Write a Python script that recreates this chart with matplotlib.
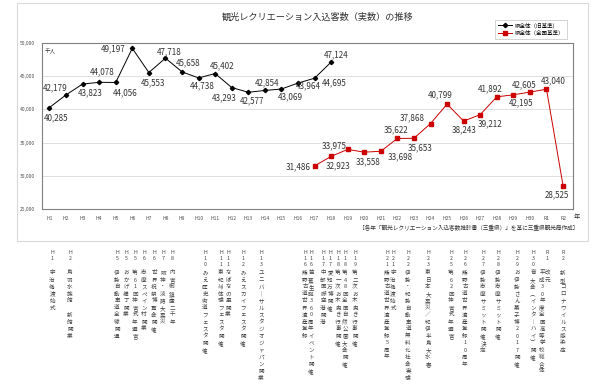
import matplotlib
matplotlib.use('Agg')
import matplotlib.pyplot as plt
from matplotlib.patches import Rectangle
import numpy as np

plt.rcParams['font.family'] = ['Noto Sans CJK JP', 'DejaVu Sans']

years = ['H1', 'H2', 'H3', 'H4', 'H5', 'H6', 'H7', 'H8', 'H9', 'H10',
         'H11', 'H12', 'H13', 'H14', 'H15', 'H16', 'H17', 'H18', 'H19', 'H20',
         'H21', 'H22', 'H23', 'H24', 'H25', 'H26', 'H27', 'H28', 'H29', 'H30',
         'R1', 'R2']

# 県全体（旧基準） H1-H18
old_basis = [40285, 42179, 43823, 44078, 44056, 49197, 45553, 47718, 45658, 44738,
             45402, 43293, 42577, 42854, 43069, 43964, 44695, 47124]
# 県全体（全国基準） H17-R2
new_basis = [31486, 32923, 33975, 33558, 33698, 35622, 35653, 37868, 40799, 38243,
             39212, 41892, 42195, 42605, 43040, 28525]
new_start = 16

# label offsets (pixels, y up)
old_off = [(7, -10), (-11, 7), (8, -9), (3, 11), (9, -10), (-19, 0), (4, -10), (4, 6),
           (6, 9), (4, -8), (7, 8), (-7, -10), (4, -9), (2, 8), (9, -8), (10, -3),
           (20, -5), (5, 7)]
new_off = [(-16, -1), (7, -9), (-14, 4), (4, -10), (19, -6), (-1, 9), (6, -10), (-18, 6),
           (-7, 9), (0, -9), (10, -9), (-7, 8), (8, -8), (-6, 7), (7, 8), (-6, -9)]

# events below the chart
event_year = ['H1', 'H2', 'H5', 'H5', 'H5', 'H6', 'H6', 'H7', 'H8', 'H10', 'H11', 'H11',
              'H12', 'H13', 'H16', 'H16', 'H17', 'H17', 'H18', 'H18', 'H19', 'H21', 'H21',
              'H22', 'H23', 'H25', 'H26', 'H27', 'H28', 'H29', 'H30', '', 'R1', 'R2']
event_text = ['宇治橋渡始式', '鳥羽水族館　新館開業', '伊勢自動車道全線開通', 'おかげ横丁開業',
              '第61回神宮式年遷宮', '志摩スペイン村開業', '世界祝祭博覧会開催', '阪神・淡路大震災',
              '内宮御鎮座二千年', 'みえ歴史街道フェスタ開催', '東紀州体験フェスタ開催', 'なばなの里開業',
              'みえスカイフェスタ開催', 'ユニバーサルスタジオジャパン開業', '熊野古道世界遺産登録',
              '芭蕉生誕360周年イベント開催', '中部国際空港開港', '愛知万博開催',
              '第一次お木曳き行事開催', '第48回全国自然公園大会開催', '第二次お木曳き行事開催',
              '熊野古道世界遺産登録5周年', '宇治橋渡始式', '伊勢・紀勢自動車道無料化社会実験',
              '東日本大震災／紀伊半島大水害', '第62回神宮式年遷宮', '熊野古道世界遺産登録10周年',
              '伊勢志摩サミット開催決定', '伊勢志摩サミット開催', 'お伊勢さん菓子博2017開催',
              '育大会（インターハイ）開催', '平成30年度全国高等学校総合体', '改元',
              '新型コロナウイルス感染症']
event_px = [52, 70, 117, 126, 135, 144, 154, 163, 172, 205, 221, 228, 243, 261,
            305, 311, 323, 330, 338, 345, 355, 387, 393, 408, 428, 451, 465, 483,
            498, 517, 533, 542, 547, 563]

W, H = 600, 390
fig = plt.figure(figsize=(6, 3.9), dpi=100)
ax = fig.add_axes([42 / W, 1 - 209 / H, (573 - 42) / W, (209 - 43) / H])

x_all = np.arange(len(years))
x_old = x_all[:len(old_basis)]
x_new = x_all[new_start:new_start + len(new_basis)]

ax.plot(x_old, old_basis, color='black', lw=0.7, marker='D', ms=2.2,
        label='県全体（旧基準）')
ax.plot(x_new, new_basis, color='#cc0000', lw=0.7, marker='s', ms=2.8,
        label='県全体（全国基準）')

for xv, v, (dx, dy) in zip(x_old, old_basis, old_off):
    ax.annotate(f'{v:,}', (xv, v), xytext=(dx, dy), textcoords='offset pixels',
                ha='center', va='center', fontsize=5.8, color='#333333')
for xv, v, (dx, dy) in zip(x_new, new_basis, new_off):
    ax.annotate(f'{v:,}', (xv, v), xytext=(dx, dy), textcoords='offset pixels',
                ha='center', va='center', fontsize=5.8, color='#333333')

ax.set_xlim(-0.45, 31.6)
ax.set_ylim(25000, 50000)
ax.set_yticks(np.arange(25000, 50001, 5000))
ax.set_yticklabels([f'{t:,}' for t in range(25000, 50001, 5000)])
ax.set_xticks(x_all)
ax.set_xticklabels(years)
ax.tick_params(axis='both', length=0, labelsize=3.6, colors='#505050')
ax.tick_params(axis='y', pad=5)
ax.tick_params(axis='x', pad=5)
ax.yaxis.grid(True, color='#d9d9d9', lw=0.6)
ax.set_axisbelow(True)
for s in ax.spines.values():
    s.set_color('#808080')
    s.set_linewidth(0.8)

ax.text(0.005, 0.97, '千人', transform=ax.transAxes, ha='left', va='top',
        fontsize=4, color='#333333')

fig.text(318 / W, 1 - 17 / H, '観光レクリエーション入込客数（実数）の推移',
         ha='center', va='center', fontsize=6.6, color='#333333')
fig.text(577 / W, 1 - 217 / H, '年', ha='center', va='center', fontsize=4.5,
         color='#333333')
fig.text(578 / W, 1 - 228 / H,
         '［各年「観光レクリエーション入込客数推計書（三重県）」を基に三重県観光局作成］',
         ha='right', va='center', fontsize=4.1, color='#333333')

leg = fig.legend(loc='upper right', bbox_to_anchor=(570 / W, 1 - 17 / H),
                 fontsize=4, frameon=True, fancybox=False, borderpad=0.5,
                 handlelength=2.6, handletextpad=0.5, labelspacing=0.4)
leg.get_frame().set_edgecolor('#bfbfbf')
leg.get_frame().set_linewidth(0.6)

fig.patches.append(Rectangle((17 / W, 1 - 241 / H), (588 - 17) / W, (241 - 3) / H,
                             transform=fig.transFigure, fill=False,
                             edgecolor='#d9d9d9', lw=0.8))

vert = {'ー': '｜', '（': '︵', '）': '︶'}
for px, yr, txt in zip(event_px, event_year, event_text):
    for k, ch in enumerate(yr):
        fig.text(px / W, 1 - (252 + k * 6.5) / H, ch, ha='center', va='center',
                 fontsize=3.8, color='#444444')
    for k, ch in enumerate(txt):
        if ch == '　':
            continue
        fig.text(px / W, 1 - (273 + k * 7.0) / H, vert.get(ch, ch), ha='center',
                 va='center', fontsize=4.0, color='#444444')

fig.savefig('out.png', dpi=100)
